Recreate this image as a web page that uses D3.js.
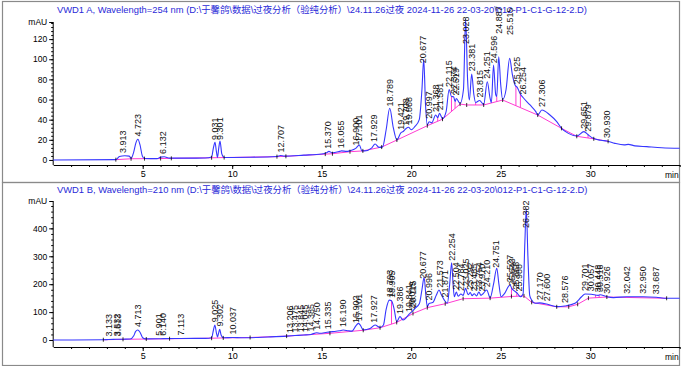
<!DOCTYPE html>
<html><head><meta charset="utf-8">
<script src="https://cdn.jsdelivr.net/npm/d3@7"></script>
<style>body{margin:0;background:#fff}svg{display:block}text{font-family:"Liberation Sans",Arial,"Noto Sans CJK SC",sans-serif}</style>
</head><body><svg id="c" width="682" height="366"></svg>
<script>
// ---------- DATA ----------
const titleA = "VWD1 A, Wavelength=254 nm (D:\\于馨鸽\\数据\\过夜分析（验纯分析）\\24.11.26过夜 2024-11-26 22-03-20\\012-P1-C1-G-12-2.D)";
const titleB = "VWD1 B, Wavelength=210 nm (D:\\于馨鸽\\数据\\过夜分析（验纯分析）\\24.11.26过夜 2024-11-26 22-03-20\\012-P1-C1-G-12-2.D)";
const xTicks = [5, 10, 15, 20, 25, 30];
const yTicksA = [0, 20, 40, 60, 80, 100, 120];
const yTicksB = [0, 100, 200, 300, 400];

// [time (min), mAU]
const traceA = [[0,0],[3.5,0.3],[3.7,3.5],[4.0,4.2],[4.25,3.8],[4.35,1.5],[4.5,8],[4.62,17],[4.73,20.5],[4.85,15],[4.98,4],[5.1,1.5],[5.8,1.3],[6.0,2.8],[6.2,3.2],[6.5,1.8],[7.5,1.8],[8.5,2],[8.85,3],[8.95,12],[9.04,17.5],[9.12,8],[9.18,2.6],[9.25,12],[9.32,18.8],[9.42,6],[9.55,2.5],[11,2.7],[12.5,3.5],[12.7,4.5],[12.9,3.8],[14,4.8],[15,6],[15.3,7.5],[15.4,8.5],[15.6,7],[16.0,8.5],[16.1,9],[16.4,8.5],[16.58,9.2],[16.9,11.5],[17.1,14.9],[17.25,9],[17.4,9],[17.8,12],[17.98,15.9],[18.2,12.5],[18.4,13],[18.6,30],[18.8,51.3],[19.0,32],[19.2,19.8],[19.42,27],[19.55,28.3],[19.7,31],[19.85,32.5],[20.0,30],[20.2,33],[20.45,40],[20.6,70],[20.7,100],[20.8,55],[20.9,34.7],[21.0,38],[21.15,37],[21.37,44.6],[21.48,42],[21.58,46.3],[21.75,41],[21.95,48],[22.12,70],[22.25,63],[22.37,62.8],[22.45,58],[22.52,61],[22.73,56],[22.92,70],[23.04,140],[23.15,80],[23.25,59.5],[23.38,85.3],[23.5,65],[23.6,57],[23.82,59],[24.05,55],[24.25,77.7],[24.4,62],[24.48,57],[24.6,94.2],[24.72,65],[24.78,63],[24.89,102.5],[25.0,75],[25.11,60],[25.3,70],[25.5,100.9],[25.65,85],[25.8,74.4],[25.93,72],[26.08,66],[26.25,62],[26.64,54.6],[26.96,48],[27.07,44.6],[27.3,49.6],[27.75,44.6],[28.13,38],[28.4,31.4],[28.78,26.4],[29.25,23.8],[29.65,28.1],[29.88,25],[30.17,21.5],[30.6,19.5],[30.93,18.8],[31.38,16.5],[31.9,15],[32.13,15.5],[32.5,14],[33.16,13.2],[34,12.2],[35,11.6]];
const baseA = [[3.5,0.3],[4.35,1.2],[5.1,1.3],[6.0,1.4],[6.6,1.6],[8.85,2.2],[9.55,2.4],[12.5,3.3],[13.0,3.6],[15.2,5.8],[15.6,6.2],[16.58,8.2],[17.3,9],[18.35,12.8],[19.2,19.8],[20.9,34],[21.75,40.5],[22.73,55.5],[23.1,54.6],[24.05,54.6],[25.11,59.5],[27.07,44.6],[28.4,31.4],[29.25,23.5],[30.2,21],[31.0,18.5]];
const dropsA = [21.15, 21.48, 22.25, 22.45, 23.6, 24.48, 24.78, 25.85, 26.1, 29.88];
const labelsA = ["3.913","4.723","6.132","9.031","9.301","12.707","15.370","16.055","16.900","17.101","17.929","18.789","19.421","19.708","19.868","20.677","20.997","21.368","21.581","22.115","22.374","22.519","23.028","23.381","23.815","24.251","24.596","24.887","25.515","25.925","26.254","27.306","29.651","29.879","30.930"];

const traceB = [[0,0],[2.8,1],[3.1,2],[3.5,2.5],[3.9,3],[4.3,3.5],[4.5,15],[4.6,30],[4.72,35.8],[4.85,28],[5.0,8],[5.15,4],[5.9,4.5],[6.14,5],[7.1,5.5],[8.5,6],[8.85,8],[8.95,35],[9.03,53.8],[9.12,25],[9.18,11],[9.24,25],[9.30,38.2],[9.38,18],[9.5,8],[10.04,9],[10.5,8],[12,11],[13.04,14],[13.5,16],[14.0,18],[14.4,20],[14.72,26],[14.9,24],[15.3,28],[15.6,30],[16.0,33],[16.2,36],[16.5,33],[16.7,32],[16.9,50],[17.05,59.7],[17.15,54],[17.32,35.8],[17.7,41],[17.98,53.8],[18.26,45],[18.45,54],[18.6,110],[18.78,143],[18.9,141],[19.05,110],[19.19,65.7],[19.37,83.7],[19.55,71.7],[19.93,95.6],[20.1,105],[20.21,113.5],[20.46,131],[20.6,180],[20.72,224.6],[20.82,160],[20.9,119.5],[21.0,131],[21.2,134],[21.4,160],[21.55,179],[21.7,160],[21.85,143],[22.02,131.5],[22.15,200],[22.26,277],[22.34,200],[22.41,155],[22.52,172],[22.62,157],[22.78,165],[22.9,160],[23.04,185],[23.18,162],[23.3,170],[23.4,159],[23.52,166],[23.65,158],[23.78,172],[23.9,160],[24.0,165],[24.22,179],[24.41,151],[24.6,200],[24.78,257],[24.9,200],[25.02,155],[25.2,165],[25.52,197],[25.62,185],[25.78,175],[25.92,168],[26.1,155],[26.25,165],[26.35,350],[26.43,470],[26.52,300],[26.62,160],[26.73,143],[26.92,131.5],[27.17,133],[27.57,129],[28.13,119.5],[28.58,122],[29.15,131.5],[29.52,155],[29.71,165],[30.06,164],[30.45,160],[30.55,162],[30.93,155],[31.3,152],[32.04,155],[32.95,155],[33.69,153],[34.27,149.5],[35,149.5]];
const baseB = [[2.8,1],[3.9,2.5],[5.2,3.5],[6.5,4.5],[8.85,6.5],[9.5,7.5],[11,9],[13.04,14],[15.46,24],[17.32,35],[18.26,44],[19.19,63],[20.1,95],[20.9,116],[21.9,130],[22.9,148],[24.41,150],[25.6,156],[26.3,158],[26.73,135],[28.13,119],[28.8,119],[29.3,128],[29.9,150],[30.93,154],[34.27,149.5]];
const dropsB = [18.9, 25.6, 25.9, 30.3, 30.5];
const labelsB = ["3.133","3.532","3.613","4.713","5.901","6.140","7.113","9.025","9.302","10.037","13.206","13.475","13.845","14.045","14.385","14.750","15.335","16.190","16.902","17.101","17.927","18.793","18.905","19.386","19.841","20.019","20.115","20.677","20.996","21.573","21.871","22.254","22.504","22.784","23.025","23.292","23.485","23.754","23.970","24.210","24.751","25.527","25.643","25.868","25.988","26.382","27.170","27.600","28.576","29.701","30.057","30.448","30.516","30.926","32.042","32.950","33.687"];

// ---------- LAYOUT ----------
const svg = d3.select("#c");
const BLUE = "#3636ff", MAG = "#ff3cd2", TITLE = "#2a2ad8";
const x = d3.scaleLinear().domain([0, 35]).range([53.2, 679.7]);

function interp(pairs, t) {
  const i = d3.bisector(d => d[0]).left(pairs, t);
  if (i <= 0) return pairs[0][1];
  if (i >= pairs.length) return pairs[pairs.length - 1][1];
  const a = pairs[i - 1], b = pairs[i];
  return a[1] + (b[1] - a[1]) * (t - a[0]) / (b[0] - a[0]);
}

function panel(cfg) {
  const g = svg.append("g");
  const y = d3.scaleLinear().domain(cfg.yDom).range(cfg.yRange);
  g.append("rect").attr("x", 2.5).attr("y", cfg.frameTop + 0.5).attr("width", 677).attr("height", cfg.frameH)
    .attr("fill", "none").attr("stroke", "#8a8a8a").attr("stroke-width", 1.2);
  g.append("text").attr("x", 57).attr("y", cfg.titleY).attr("font-size", 9.4).attr("fill", TITLE).text(cfg.title);
  const yAxis = d3.axisLeft(y).tickValues(cfg.yTicks).tickSize(4).tickPadding(2).tickSizeOuter(0);
  const ya = g.append("g").attr("transform", `translate(${x(0)},0)`).call(yAxis);
  ya.select(".domain").attr("d", `M0,${cfg.yRange[0]}V${cfg.yRange[1]}`);
  ya.selectAll("text").attr("font-size", 8.5).attr("font-family", '"Liberation Sans",Arial');
  g.append("g").attr("transform", `translate(${x(0)},0)`)
    .call(d3.axisLeft(y).tickValues(d3.range(cfg.yDom[0] < 0 ? cfg.minorStep : 0, cfg.yDom[1], cfg.minorStep)).tickSize(2).tickFormat("").tickSizeOuter(0))
    .select(".domain").remove();
  g.append("line").attr("x1", x(0) - 4).attr("x2", x(0)).attr("y1", cfg.yRange[1] + 0.5).attr("y2", cfg.yRange[1] + 0.5).attr("stroke", "#000");
  g.append("text").attr("x", x(0) - 6).attr("y", cfg.yRange[1] + 3).attr("text-anchor", "end").attr("font-size", 8.5).text("mAU");
  const xa = g.append("g").attr("transform", `translate(0,${cfg.yRange[0]})`)
    .call(d3.axisBottom(x).tickValues(xTicks).tickSize(4).tickPadding(2).tickFormat(d3.format("d")).tickSizeOuter(0));
  xa.selectAll("text").attr("font-size", 9).attr("font-family", '"Liberation Sans",Arial');
  g.append("g").attr("transform", `translate(0,${cfg.yRange[0]})`)
    .call(d3.axisBottom(x).tickValues(d3.range(1, 36)).tickSize(2).tickFormat("").tickSizeOuter(0))
    .select(".domain").remove();
  g.append("text").attr("x", x(35) - 1).attr("y", cfg.yRange[0] + 13).attr("text-anchor", "end").attr("font-size", 8.5).text("min");

  const line = d3.line().x(d => x(d[0])).y(d => y(d[1]));
  g.append("path").datum(cfg.base).attr("d", line).attr("fill", "none").attr("stroke", MAG).attr("stroke-width", 1);
  g.selectAll(".drop").data(cfg.drops).join("line")
    .attr("x1", d => x(d)).attr("x2", d => x(d))
    .attr("y1", d => y(interp(cfg.base, d))).attr("y2", d => y(interp(cfg.trace, d)))
    .attr("stroke", MAG).attr("stroke-width", 1);
  g.append("path").datum(cfg.trace).attr("d", line.curve(d3.curveMonotoneX)).attr("fill", "none").attr("stroke", BLUE).attr("stroke-width", 1.1);
  g.selectAll(".pm").data(cfg.base).join("line")
    .attr("x1", d => x(d[0])).attr("x2", d => x(d[0]))
    .attr("y1", d => y(d[1]) - 2).attr("y2", d => y(d[1]) + 2)
    .attr("stroke", "#000").attr("stroke-width", 0.8);
  g.selectAll(".lbl").data(cfg.labels).join("text")
    .attr("transform", d => {
      const t = +d;
      let yy = Math.max(y(interp(cfg.trace, t)) - 3, cfg.labelMinY);
      yy -= (cfg.lift[d] || 0);
      return `translate(${x(t)},${yy}) rotate(-90)`;
    })
    .attr("dy", "0.35em").attr("font-size", 9).attr("fill", "#111").text(d => d);
}

panel({ title: titleA, titleY: 13, frameTop: 1, frameH: 181, yDom: [-5, 137], yRange: [165, 22],
  yTicks: yTicksA, minorStep: 4, trace: traceA, base: baseA, drops: dropsA, labels: labelsA,
  labelMinY: 44, lift: {"24.887": 21, "25.515": 22} });
panel({ title: titleB, titleY: 193, frameTop: 182, frameH: 183, yDom: [-25, 498], yRange: [347, 201],
  yTicks: yTicksB, minorStep: 20, trace: traceB, base: baseB, drops: dropsB, labels: labelsB,
  labelMinY: 228, lift: {} });
</script></body></html>
